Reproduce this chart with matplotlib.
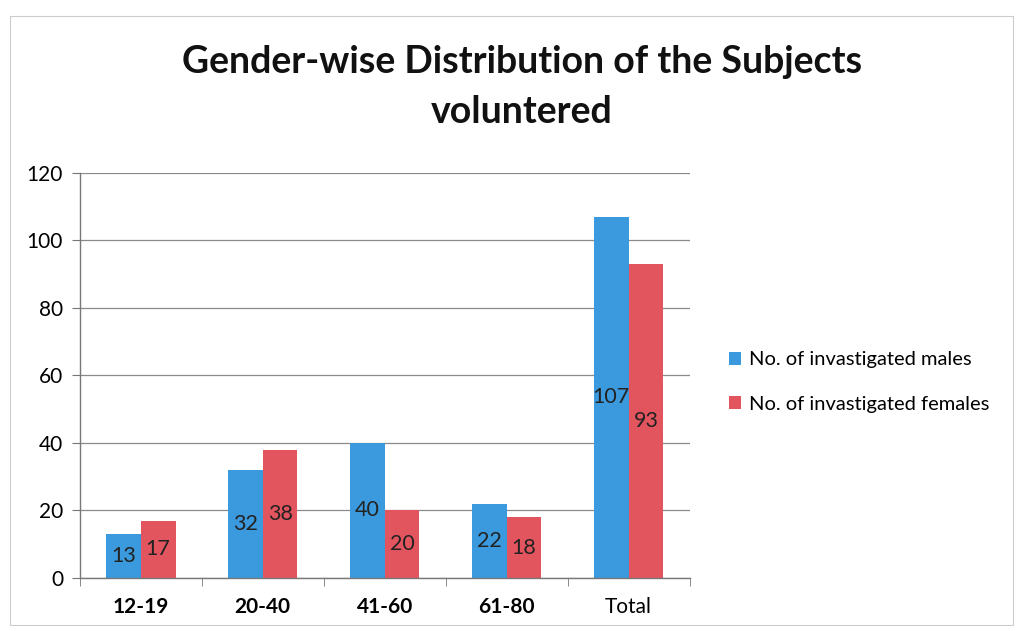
import matplotlib
matplotlib.use("Agg")
import matplotlib.pyplot as plt
import numpy as np
from matplotlib.patches import Rectangle

# ─── Data ────────────────────────────────────────────────────
age_groups = ["12-19", "20-40", "41-60", "61-80", "Total"]
males = [13, 32, 40, 22, 107]
females = [17, 38, 20, 18, 93]
series_names = ["No. of invastigated males", "No. of invastigated females"]

BLUE = "#3b9ade"
RED = "#e2545e"

plt.rcParams["font.family"] = ["Lato", "DejaVu Sans"]

fig = plt.figure(figsize=(10.23, 6.31), dpi=100)
fig.patch.set_facecolor("white")
ax = fig.add_axes([0.078, 0.084, 0.596, 0.642])

x = np.arange(len(age_groups))
w = 0.285
b1 = ax.bar(x - w / 2, males, w, color=BLUE, label=series_names[0], zorder=2)
b2 = ax.bar(x + w / 2, females, w, color=RED, label=series_names[1], zorder=2)

# Value labels centred in bars
for bars in (b1, b2):
    for rect in bars:
        h = rect.get_height()
        ax.text(rect.get_x() + rect.get_width() / 2, h / 2, f"{h:g}",
                ha="center", va="center", fontsize=15.5, color="#222222", zorder=3)

ax.set_xlim(-0.5, len(age_groups) - 0.5)
ax.set_ylim(0, 120)
ax.set_yticks(range(0, 121, 20))
ax.yaxis.grid(True, color="#8a8a8a", linewidth=0.9, zorder=0)
ax.set_axisbelow(True)

ax.set_xticks(x)
ax.set_xticklabels(age_groups, fontsize=15)
for lbl in ax.get_xticklabels():
    if lbl.get_text() != "Total":
        lbl.set_fontweight("bold")
ax.tick_params(axis="x", length=0, pad=14)
ax.set_xticks(np.arange(-0.5, len(age_groups)), minor=True)
ax.tick_params(axis="x", which="minor", length=6, color="#777777")
ax.tick_params(axis="y", labelsize=15, length=6, color="#777777", pad=6)

for side in ("top", "right"):
    ax.spines[side].set_visible(False)
for side in ("left", "bottom"):
    ax.spines[side].set_color("#777777")
    ax.spines[side].set_linewidth(1.0)

fig.text(0.51, 0.862, "Gender-wise Distribution of the Subjects\nvoluntered",
         ha="center", va="center", fontsize=27, fontweight="bold",
         linespacing=1.6, color="#111111")

ax.legend(loc="center left", bbox_to_anchor=(1.035, 0.484), frameon=False,
          fontsize=14.5, handlelength=0.6, handleheight=0.6, handletextpad=0.4,
          labelspacing=1.35)

# faint outer chart border
fig.patches.append(Rectangle((0.01, 0.01), 0.98, 0.965, transform=fig.transFigure,
                             fill=False, edgecolor="#cccccc", linewidth=0.8))

fig.savefig("out.png", dpi=100, facecolor=fig.get_facecolor())
plt.close(fig)
